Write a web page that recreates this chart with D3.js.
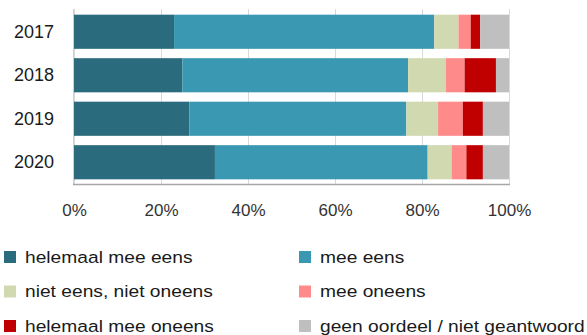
<!DOCTYPE html>
<html><head><meta charset="utf-8">
<script src="https://cdn.jsdelivr.net/npm/d3@7/dist/d3.min.js"></script>
<style>body{margin:0;background:#fff}svg{display:block}</style>
</head><body><svg id="c" width="587" height="335"></svg>
<script>
const years = ["2017","2018","2019","2020"];
const categories = ["helemaal mee eens","mee eens","niet eens, niet oneens","mee oneens","helemaal mee oneens","geen oordeel / niet geantwoord"];
const colors = ["#2a6c7d","#3a98b2","#d1d9b1","#ff8a8a","#c00000","#bfbfbf"];
const helemaalMeeEens = [23.0,24.9,26.5,32.4];
const meeEens = [59.8,51.9,49.9,48.9];
const nietEensNietOneens = [5.6,8.7,7.3,5.5];
const meeOneens = [2.8,4.3,5.7,3.4];
const helemaalMeeOneens = [2.2,7.2,4.6,3.8];
const geenOordeel = [6.6,3.0,6.0,6.0];
const tickValues = [0,20,40,60,80,100];

const seriesVals = [helemaalMeeEens,meeEens,nietEensNietOneens,meeOneens,helemaalMeeOneens,geenOordeel];
const rows = years.map((y,i)=>{const r={year:y};categories.forEach((c,k)=>r[c]=seriesVals[k][i]);return r;});
const stack = d3.stack().keys(categories)(rows);

const svg = d3.select("#c");
const font = "'Liberation Sans', Arial, sans-serif";
const x = d3.scaleLinear().domain([0,100]).range([74,509]);
const y = d3.scaleBand().domain(years).range([10,184]).paddingInner(0.215).paddingOuter(0.1075);

// gridlines
svg.append("g").selectAll("line").data(tickValues).join("line")
  .attr("x1",d=>x(d)+0.5).attr("x2",d=>x(d)+0.5).attr("y1",9).attr("y2",184)
  .attr("stroke","#d9d9d9").attr("stroke-width",1);
// left axis line
svg.append("line").attr("x1",73.5).attr("x2",73.5).attr("y1",9).attr("y2",185).attr("stroke","#d0d0d0");

svg.append("g").selectAll("g").data(stack).join("g").attr("fill",(d,i)=>colors[i])
  .selectAll("rect").data(d=>d).join("rect")
  .attr("x",d=>x(d[0])).attr("width",d=>x(d[1])-x(d[0]))
  .attr("y",d=>y(d.data.year)).attr("height",y.bandwidth());

// bottom axis
svg.append("line").attr("x1",73).attr("x2",510).attr("y1",184.5).attr("y2",184.5).attr("stroke","#a6a6a6").attr("stroke-width",1.5);

const xAxis = d3.axisBottom(x).tickValues(tickValues).tickFormat(d=>d+"%").tickSize(0).tickPadding(0);
const gx = svg.append("g").attr("transform","translate(0,203.5)").call(xAxis);
gx.select(".domain").remove();
gx.selectAll("text").attr("font-family",font).attr("font-size",17).attr("fill","#333").attr("dy","0.71em").attr("y",0);

const yAxis = d3.axisLeft(y).tickSize(0).tickPadding(0);
const gy = svg.append("g").attr("transform","translate(54,0)").call(yAxis);
gy.select(".domain").remove();
gy.selectAll("text").attr("font-family",font).attr("font-size",18).attr("fill","#1a1a1a");

// legend
const leg = svg.append("g").selectAll("g").data(categories).join("g")
  .attr("transform",(d,i)=>`translate(${i%2===0?4:299},${257+Math.floor(i/2)*34.5})`);
leg.append("rect").attr("x",0).attr("y",-6).attr("width",12).attr("height",12).attr("fill",(d,i)=>colors[i]);
leg.append("text").attr("transform","translate(21,0) scale(1.13,1)").attr("dy","0.33em").attr("font-family",font).attr("font-size",17).attr("fill","#1a1a1a").text(d=>d);
</script></body></html>
